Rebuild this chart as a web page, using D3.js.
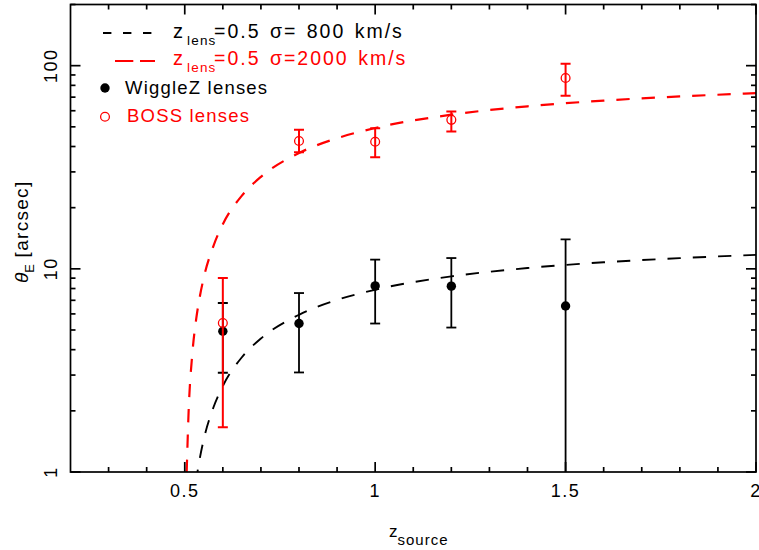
<!DOCTYPE html>
<html>
<head>
<meta charset="utf-8">
<script src="https://cdn.jsdelivr.net/npm/d3@7"></script>
<style>
  html, body { margin: 0; padding: 0; background: #fff; }
  svg { display: block; font-family: "Liberation Sans", Arial, Helvetica, sans-serif; }
</style>
</head>
<body>
<svg id="chart" width="759" height="550"></svg>
<script>
// ---- data ----
const zSource = [0.6, 0.8, 1.0, 1.2, 1.5];
const wigglezTheta = [4.93, 5.38, 8.24, 8.22, 6.56];
const wigglezHi = [6.79, 7.6, 11.1, 11.3, 13.96];
const wigglezLo = [3.08, 3.09, 5.38, 5.14, 0.1];
const bossTheta = [5.41, 42.6, 42.2, 54.1, 87.0];
const bossHi = [9.01, 48.3, 49.2, 59.4, 102.3];
const bossLo = [1.66, 37.5, 35.4, 47.4, 71.2];

const curveZ = [0.505, 0.51, 0.52, 0.53, 0.54, 0.55, 0.575, 0.6, 0.65, 0.7, 0.8, 0.9, 1.0, 1.2, 1.4, 1.6, 1.8, 2.0];
const curveSigma800 = [0.159, 0.312, 0.614, 0.903, 1.18, 1.45, 2.07, 2.65, 3.67, 4.54, 5.94, 7.03, 7.89, 9.18, 10.09, 10.77, 11.29, 11.71];
const curveSigma2000 = [0.987, 1.95, 3.84, 5.65, 7.37, 9.06, 12.91, 16.59, 22.93, 28.37, 37.15, 43.94, 49.33, 57.38, 63.07, 67.30, 70.58, 73.19];

const xMajorTicks = [0.5, 1, 1.5, 2];
const xMajorLabels = ["0.5", "1", "1.5", "2"];
const xMinorTicks = [0.3, 0.4, 0.6, 0.7, 0.8, 0.9, 1.1, 1.2, 1.3, 1.4, 1.6, 1.7, 1.8, 1.9];
const yMajorTicks = [1, 10, 100];
const yMajorLabels = ["1", "10", "100"];
const yMinorTicks = [2, 3, 4, 5, 6, 7, 8, 9, 20, 30, 40, 50, 60, 70, 80, 90, 200];

// ---- layout ----
const svg = d3.select("#chart");
const L = 70.5, R = 756, T = 4.5, B = 472;
const x = d3.scaleLinear().domain([0.2, 2]).range([L, R]);
const y = d3.scaleLog().domain([1, 200]).range([B, T]);

svg.append("rect").attr("width", 759).attr("height", 550).attr("fill", "#fff");

const defs = svg.append("defs");
defs.append("clipPath").attr("id", "plotclip")
  .append("rect").attr("x", L).attr("y", T).attr("width", R - L).attr("height", B - T);

const plot = svg.append("g").attr("clip-path", "url(#plotclip)");

// curves
const line = d3.line().x(d => x(d[0])).y(d => y(d[1])).curve(d3.curveMonotoneX);
plot.append("path")
  .datum(curveZ.map((z, i) => [z, curveSigma800[i]]))
  .attr("d", line).attr("fill", "none").attr("stroke", "#000")
  .attr("stroke-width", 1.9).attr("stroke-dasharray", "13.3,12");
plot.append("path")
  .datum(curveZ.map((z, i) => [z, curveSigma2000[i]]))
  .attr("d", line).attr("fill", "none").attr("stroke", "#ff0000")
  .attr("stroke-width", 2.2).attr("stroke-dasharray", "13.3,12");

// error bars
function errBars(g, vals, lo, hi, color, sw) {
  const data = zSource.map((z, i) => ({ z, v: vals[i], lo: lo[i], hi: hi[i] }));
  g.selectAll(null).data(data).enter().append("line")
    .attr("x1", d => x(d.z)).attr("x2", d => x(d.z))
    .attr("y1", d => y(d.lo)).attr("y2", d => y(d.hi))
    .attr("stroke", color).attr("stroke-width", sw);
  g.selectAll(null).data(data).enter().append("line")
    .attr("x1", d => x(d.z) - 5).attr("x2", d => x(d.z) + 5)
    .attr("y1", d => y(d.hi)).attr("y2", d => y(d.hi))
    .attr("stroke", color).attr("stroke-width", sw);
  g.selectAll(null).data(data.filter(d => d.lo >= 1)).enter().append("line")
    .attr("x1", d => x(d.z) - 5).attr("x2", d => x(d.z) + 5)
    .attr("y1", d => y(d.lo)).attr("y2", d => y(d.lo))
    .attr("stroke", color).attr("stroke-width", sw);
  return data;
}
const wData = errBars(plot, wigglezTheta, wigglezLo, wigglezHi, "#000", 1.8);
plot.selectAll(null).data(wData).enter().append("circle")
  .attr("cx", d => x(d.z)).attr("cy", d => y(d.v)).attr("r", 4.7).attr("fill", "#000");
const bData = errBars(plot, bossTheta, bossLo, bossHi, "#ff0000", 2);
plot.selectAll(null).data(bData).enter().append("circle")
  .attr("cx", d => x(d.z)).attr("cy", d => y(d.v)).attr("r", 4.4)
  .attr("fill", "none").attr("stroke", "#ff0000").attr("stroke-width", 1.3);

// ---- axes frame ----
const ax = svg.append("g").attr("stroke", "#000").attr("stroke-width", 1.7);
ax.append("rect").attr("x", L).attr("y", T).attr("width", R - L).attr("height", B - T).attr("fill", "none");

function ticksX(vals, len) {
  ax.selectAll(null).data(vals).enter().append("line")
    .attr("x1", d => x(d)).attr("x2", d => x(d)).attr("y1", B).attr("y2", B - len);
  ax.selectAll(null).data(vals).enter().append("line")
    .attr("x1", d => x(d)).attr("x2", d => x(d)).attr("y1", T).attr("y2", T + len);
}
function ticksY(vals, len) {
  ax.selectAll(null).data(vals).enter().append("line")
    .attr("x1", L).attr("x2", L + len).attr("y1", d => y(d)).attr("y2", d => y(d));
  ax.selectAll(null).data(vals).enter().append("line")
    .attr("x1", R).attr("x2", R - len).attr("y1", d => y(d)).attr("y2", d => y(d));
}
ticksX(xMajorTicks, 10);
ticksX(xMinorTicks, 5);
ticksY(yMajorTicks, 10);
ticksY(yMinorTicks, 5);

// tick labels
svg.selectAll(null).data(xMajorTicks).enter().append("text")
  .attr("x", d => x(d)).attr("y", 497)
  .attr("text-anchor", "middle").attr("font-size", 18).attr("letter-spacing", 1.5)
  .text((d, i) => xMajorLabels[i]);
svg.selectAll(null).data(yMajorTicks).enter().append("text")
  .attr("transform", d => `translate(57,${y(d)}) rotate(-90)`)
  .attr("text-anchor", "middle").attr("font-size", 18).attr("letter-spacing", 1.5)
  .text((d, i) => yMajorLabels[i]);

// axis titles
const xt = svg.append("text").attr("x", 389).attr("y", 537).attr("font-size", 17);
xt.append("tspan").text("z");
xt.append("tspan").attr("dy", 8).attr("font-size", 15).attr("letter-spacing", 1).text("source");

const yt = svg.append("text").attr("transform", "translate(28,283) rotate(-90)").attr("font-size", 19);
yt.append("tspan").attr("font-style", "italic").text("θ");
yt.append("tspan").attr("dy", 6).attr("font-size", 13).text("E");
yt.append("tspan").attr("dy", -6).attr("letter-spacing", 1.3).text(" [arcsec]");

// ---- legend ----
const lg = svg.append("g");
lg.append("line").attr("x1", 103).attr("x2", 152).attr("y1", 33).attr("y2", 33)
  .attr("stroke", "#000").attr("stroke-width", 1.9).attr("stroke-dasharray", "8.4,11.6");
lg.append("line").attr("x1", 115).attr("x2", 155).attr("y1", 61).attr("y2", 61)
  .attr("stroke", "#ff0000").attr("stroke-width", 2.2).attr("stroke-dasharray", "18.3,6.7");

function legendText(yb, color, rest) {
  const t = lg.append("text").attr("y", yb).attr("fill", color);
  t.append("tspan").attr("x", 173).attr("font-size", 20).text("z");
  t.append("tspan").attr("x", 187).attr("dy", 7).attr("font-size", 13.5).attr("letter-spacing", 1.2).text("lens");
  t.append("tspan").attr("x", 214).attr("dy", -7).attr("font-size", 19.5)
    .attr("letter-spacing", 2).attr("word-spacing", 2).text(rest);
}
legendText(38, "#000", "=0.5 σ=\u00a0800 km/s");
legendText(65, "#ff0000", "=0.5 σ=2000 km/s");

lg.append("circle").attr("cx", 105).attr("cy", 88).attr("r", 4.7).attr("fill", "#000");
lg.append("text").attr("x", 125).attr("y", 94).attr("font-size", 18.5).attr("letter-spacing", 1.2)
  .text("WiggleZ lenses");
lg.append("circle").attr("cx", 105).attr("cy", 116.7).attr("r", 4.4)
  .attr("fill", "none").attr("stroke", "#ff0000").attr("stroke-width", 1.3);
lg.append("text").attr("x", 127).attr("y", 122).attr("font-size", 18.5).attr("letter-spacing", 1.2)
  .attr("fill", "#ff0000").text("BOSS lenses");
</script>
</body>
</html>
